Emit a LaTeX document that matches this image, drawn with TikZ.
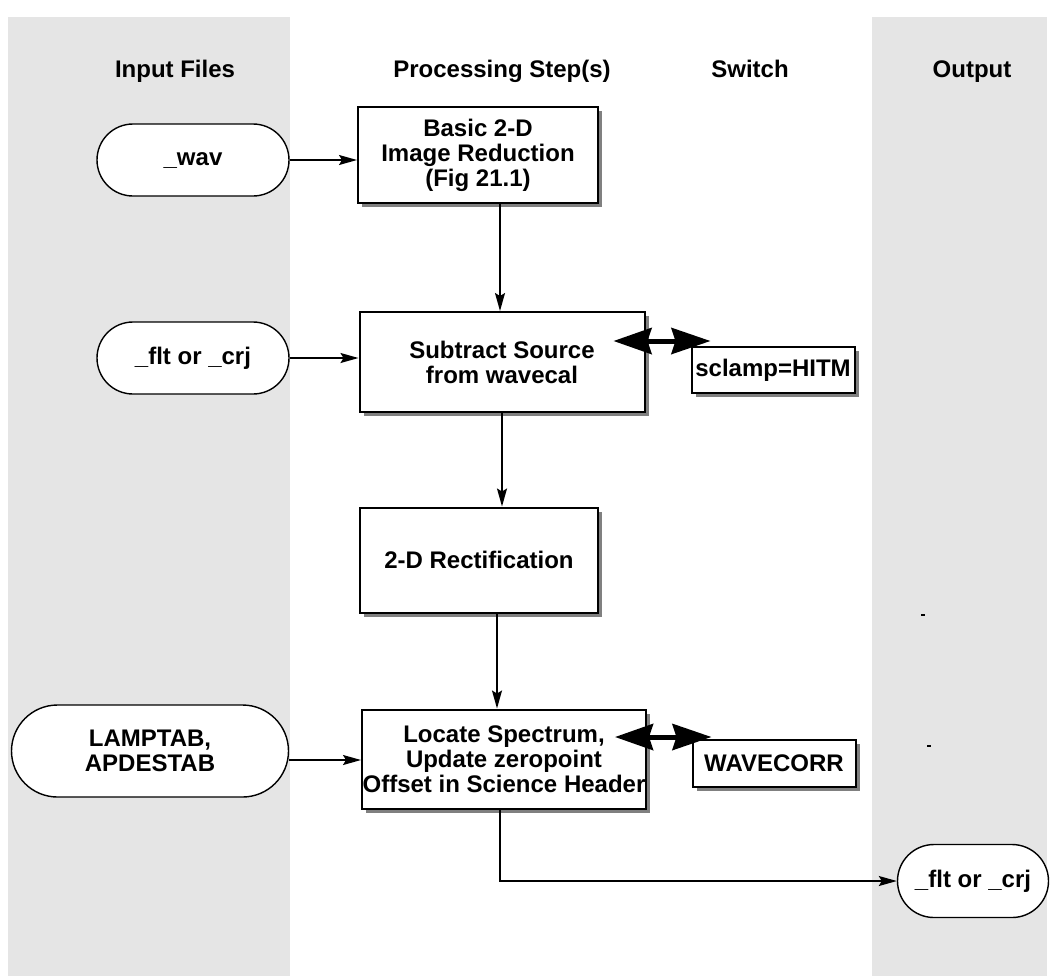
\documentclass[tikz,border=0pt]{standalone}
\usepackage{fontspec}
\setmainfont{Liberation Sans}
\usetikzlibrary{arrows.meta,shapes.misc,shadows}
\definecolor{lanegray}{RGB}{229,229,229}
\tikzset{
  lane/.style={fill=lanegray, draw=none},
  head/.style={anchor=base, font=\bfseries\fontsize{12}{14}\selectfont},
  stepbox/.style={draw, line width=1pt, fill=white, align=center, inner sep=0pt,
    font=\bfseries\fontsize{12}{12.5}\selectfont,
    drop shadow={opacity=1, shadow xshift=2pt, shadow yshift=-2pt}},
  filepill/.style={draw, line width=0.7pt, rounded rectangle, fill=white, align=center,
    inner sep=0pt, font=\bfseries\fontsize{12}{12.5}\selectfont},
  flow/.style={line width=0.75pt, -{Stealth[length=9pt,width=5pt,inset=1.5pt]}},
  switchlink/.style={line width=2.5pt,
    {Stealth[length=19pt,width=13pt,inset=2pt]}-{Stealth[length=19.5pt,width=13pt,inset=2pt]}}
}
\begin{document}
\begin{tikzpicture}[x=0.5pt, y=-0.5pt]
    \useasboundingbox (0,0) rectangle (1060,976);
    \fill[lane] (8,17) rectangle (290,976);
    \fill[lane] (872,17) rectangle (1047,976);
    % column heads
    \node[head] (hin)  at (175,77) {Input Files};
    \node[head] (hpro) at (502,77) {Processing Step(s)};
    \node[head] (hsw)  at (750,77) {Switch};
    \node[head] (hout) at (972,77) {Output};
    % input files
    \node[filepill, minimum width=96pt, minimum height=36pt] (wav) at (193,160) {\_wav};
    \node[filepill, minimum width=96pt, minimum height=36pt] (fltin) at (193,358) {\_flt or \_crj};
    \node[filepill, minimum width=138.5pt, minimum height=46pt] (lamp) at (150,751) {LAMPTAB,\\APDESTAB};
    % processing steps
    \node[stepbox, minimum width=120pt, minimum height=48pt] (basic) at (478,155)
        {Basic 2-D\\Image Reduction\\(Fig 21.1)};
    \node[stepbox, minimum width=142.5pt, minimum height=50pt] (subtract) at (502,362)
        {Subtract Source\\from wavecal};
    \node[stepbox, minimum width=119pt, minimum height=52.5pt] (rectif) at (479,560)
        {2-D Rectification};
    \node[stepbox, minimum width=142pt, minimum height=49.5pt] (locate) at (504,759)
        {Locate Spectrum,\\Update zeropoint\\Offset in Science Header};
    % switches
    \node[stepbox, minimum width=81.5pt, minimum height=23pt] (sclamp) at (773,370) {sclamp=HITM};
    \node[stepbox, minimum width=81.5pt, minimum height=23.5pt] (wavecorr) at (774,763) {WAVECORR};
    % output
    \node[filepill, minimum width=75.5pt, minimum height=36.5pt] (outfile) at (973,881) {\_flt or \_crj};
    % connectors
    \draw[flow] (wav.east) -- (wav.east -| basic.west);
    \draw[flow] (fltin.east) -- (fltin.east -| subtract.west);
    \draw[flow] ([yshift=-4.5pt]lamp.east) -- ([yshift=-4.5pt]lamp.east -| locate.west);
    \draw[flow] ([xshift=11pt]basic.south) -- ([xshift=11pt]basic.south |- subtract.north);
    \draw[flow] (subtract.south) -- (subtract.south |- rectif.north);
    \draw[flow] ([xshift=9pt]rectif.south) -- ([xshift=9pt]rectif.south |- locate.north);
    \draw[flow] ([xshift=-2pt]locate.south) |- (outfile.west);
    \draw[switchlink, shorten <=-16pt, shorten >=-10pt]
        ([yshift=10.5pt]subtract.east) -- ([yshift=10.5pt]subtract.east -| sclamp.west);
    \draw[switchlink, shorten <=-16pt, shorten >=-10pt]
        ([yshift=11pt]locate.east) -- ([yshift=11pt]locate.east -| wavecorr.west);
    % stray marks
    \fill (921,614) rectangle (925,616);
    \fill (927,745) rectangle (931,747);
\end{tikzpicture}
\end{document}
